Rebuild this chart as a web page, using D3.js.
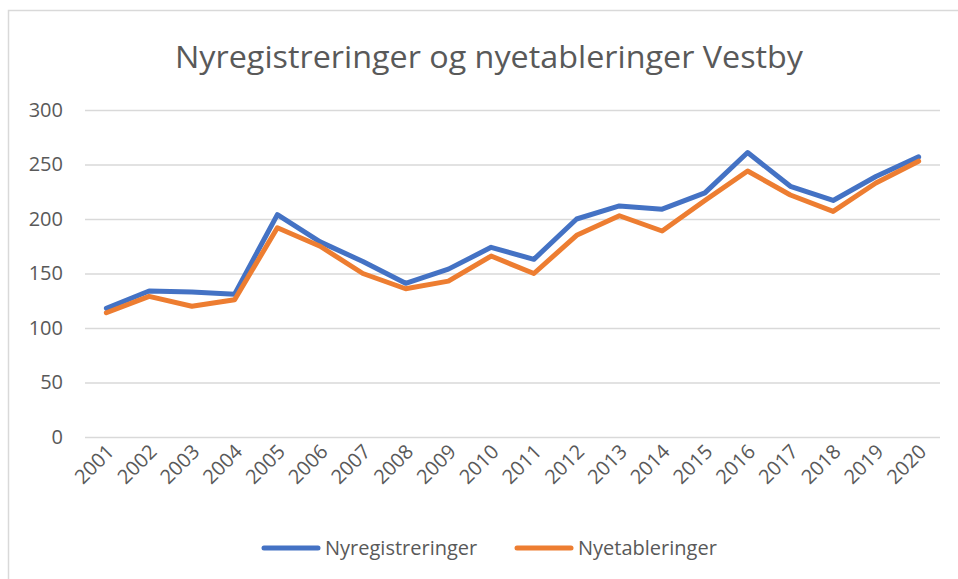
<!DOCTYPE html>
<html lang="no">
<head>
<meta charset="utf-8">
<title>Nyregistreringer og nyetableringer Vestby</title>
<script src="https://cdn.jsdelivr.net/npm/d3@7"></script>
<style>
    body { margin: 0; background: #fff; }
    text { font-family: "Open Sans", "Noto Sans", sans-serif; fill: #595959; }
</style>
</head>
<body>
<div id="chart"></div>
<script>
    // data
    const years = ["2001", "2002", "2003", "2004", "2005", "2006", "2007", "2008", "2009", "2010",
                   "2011", "2012", "2013", "2014", "2015", "2016", "2017", "2018", "2019", "2020"];
    const nyregistreringer = [118, 134, 133, 131, 204, 179, 161, 141, 154, 174,
                              163, 200, 212, 209, 224, 261, 230, 217, 239, 257];
    const nyetableringer = [114, 129, 120, 126, 192, 175, 150, 136, 143, 166,
                            150, 185, 203, 189, 217, 244, 222, 207, 233, 253];
    const yTicks = [0, 50, 100, 150, 200, 250, 300];

    const series = [
        { name: "Nyregistreringer", values: nyregistreringer, color: "#4472C4" },
        { name: "Nyetableringer", values: nyetableringer, color: "#ED7D31" }
    ];

    const width = 958, height = 579;
    const margin = { left: 85, right: 18, top: 110, bottom: 142 };

    const svg = d3.select("#chart").append("svg")
        .attr("width", width)
        .attr("height", height);

    // chart frame
    svg.append("rect")
        .attr("x", 8.5).attr("y", 10.5)
        .attr("width", 970).attr("height", 600)
        .attr("fill", "none")
        .attr("stroke", "#d9d9d9")
        .attr("stroke-width", 1.5);

    const x = d3.scaleBand()
        .domain(years)
        .range([margin.left, width - margin.right]);

    const y = d3.scaleLinear()
        .domain([0, 300])
        .range([height - margin.bottom, margin.top]);

    const cx = d => x(d) + x.bandwidth() / 2;

    // title
    svg.append("text")
        .attr("x", 489)
        .attr("y", 68)
        .attr("text-anchor", "middle")
        .style("font-size", "31px")
        .attr("textLength", 628)
        .attr("lengthAdjust", "spacingAndGlyphs")
        .text("Nyregistreringer og nyetableringer Vestby");

    // gridlines + y labels
    const yAxis = d3.axisLeft(y)
        .tickValues(yTicks)
        .tickSize(-(width - margin.left - margin.right))
        .tickPadding(22);

    svg.append("g")
        .attr("transform", "translate(" + margin.left + ",0)")
        .call(yAxis)
        .call(g => g.select(".domain").remove())
        .call(g => g.selectAll("line").attr("stroke", "#d9d9d9").attr("stroke-width", 1.5))
        .call(g => g.selectAll("text").style("font-size", "20px").attr("fill", "#595959")
            .style("font-family", "'Open Sans', sans-serif"));

    // x labels, rotated
    const xAxis = d3.axisBottom(x).tickSize(0).tickPadding(0);
    svg.append("g")
        .attr("transform", "translate(0," + (height - margin.bottom) + ")")
        .call(xAxis)
        .call(g => g.select(".domain").remove())
        .call(g => g.selectAll("text")
            .style("font-size", "20px")
            .attr("fill", "#595959")
            .style("font-family", "'Open Sans', sans-serif")
            .attr("text-anchor", "end")
            .attr("dy", null)
            .attr("y", 0)
            .attr("transform", "translate(9,16) rotate(-45)"));

    // lines
    const line = d3.line()
        .x((d, i) => cx(years[i]))
        .y(d => y(d));

    svg.selectAll(".series")
        .data(series)
        .enter()
        .append("path")
        .attr("class", "series")
        .attr("d", d => line(d.values))
        .attr("fill", "none")
        .attr("stroke", d => d.color)
        .attr("stroke-width", 5)
        .attr("stroke-linejoin", "round")
        .attr("stroke-linecap", "round");

    // legend
    const legendX = [264, 517];
    const legend = svg.selectAll(".legend")
        .data(series)
        .enter()
        .append("g")
        .attr("class", "legend")
        .attr("transform", (d, i) => "translate(" + legendX[i] + ",548)");

    legend.append("line")
        .attr("x1", 0).attr("x2", 54)
        .attr("stroke", d => d.color)
        .attr("stroke-width", 5)
        .attr("stroke-linecap", "round");

    legend.append("text")
        .attr("x", 61)
        .attr("y", 7)
        .style("font-size", "20px")
        .text(d => d.name);
</script>
</body>
</html>
